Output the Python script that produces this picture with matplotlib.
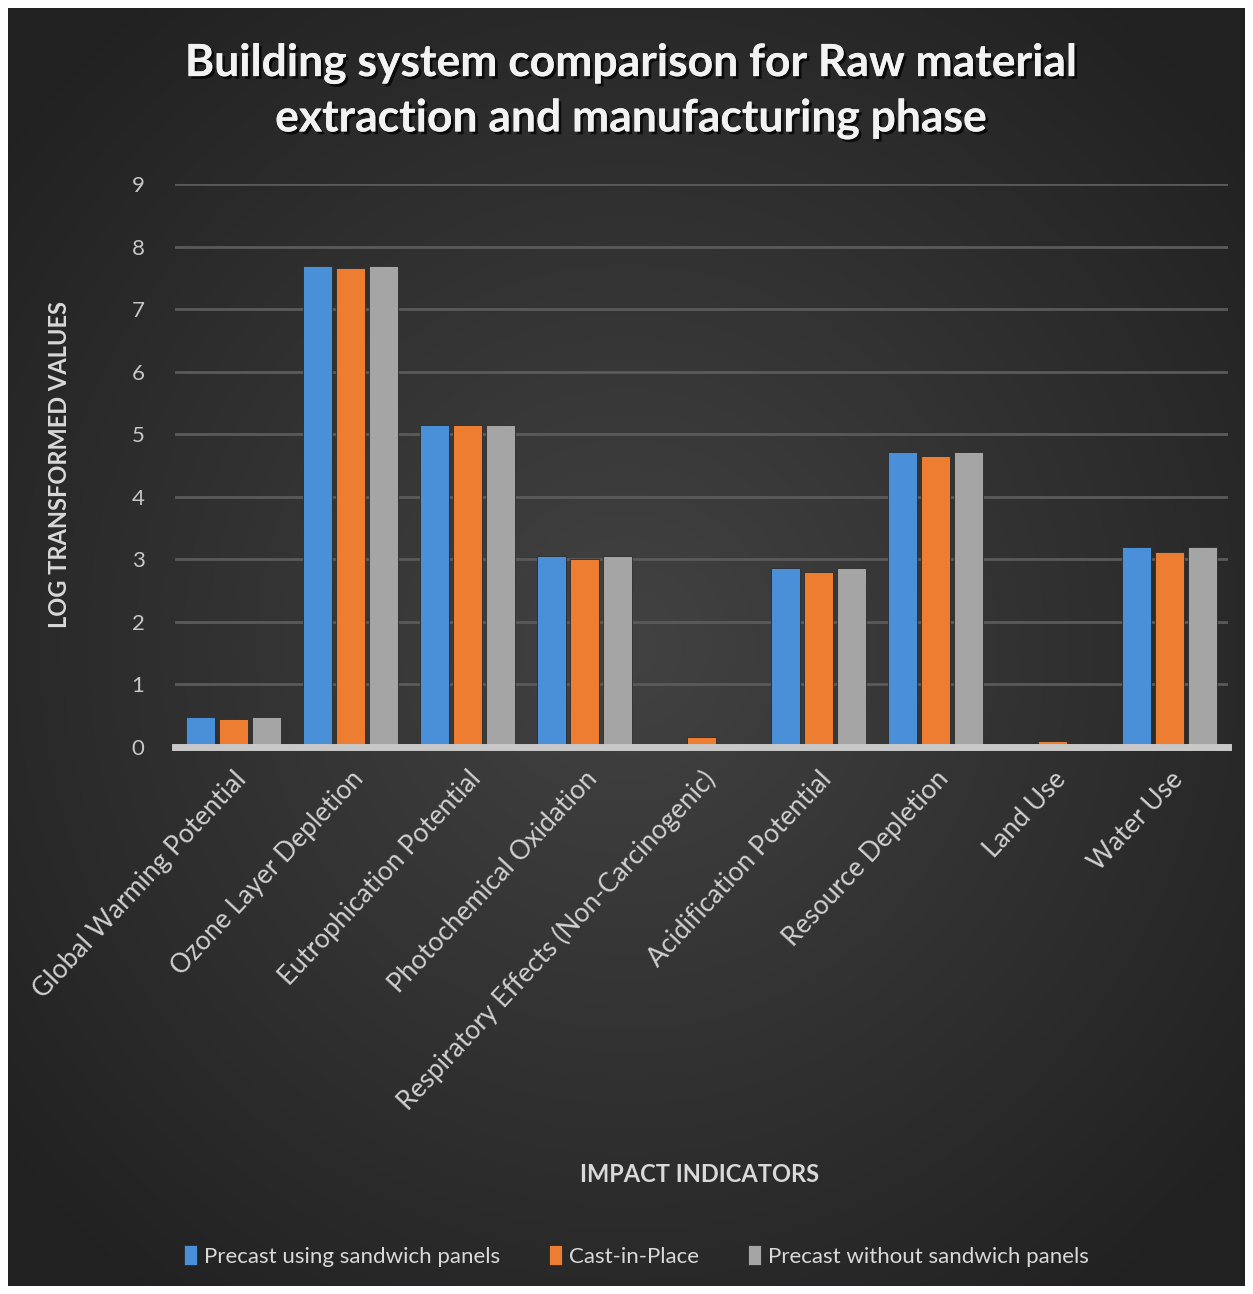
import numpy as np
import matplotlib
matplotlib.use("Agg")
import matplotlib.pyplot as plt
import matplotlib.patheffects as pe

categories = ["Global Warming Potential", "Ozone Layer Depletion", "Eutrophication Potential",
              "Photochemical Oxidation", "Respiratory Effects (Non-Carcinogenic)",
              "Acidification Potential", "Resource Depletion", "Land Use", "Water Use"]
precast_sandwich = [0.48, 7.69, 5.15, 3.05, 0.03, 2.86, 4.72, 0.03, 3.20]
cast_in_place = [0.45, 7.66, 5.15, 3.00, 0.16, 2.80, 4.65, 0.10, 3.12]
precast_no_sandwich = [0.48, 7.69, 5.15, 3.05, 0.03, 2.86, 4.72, 0.03, 3.20]
series_names = ["Precast using sandwich panels", "Cast-in-Place", "Precast without sandwich panels"]
colors = ["#4a90d9", "#ed7d31", "#a5a5a5"]
yticks = list(range(0, 10))

plt.rcParams['font.family'] = ['Lato', 'DejaVu Sans']

W, H = 1253, 1294
fig = plt.figure(figsize=(W/100, H/100), dpi=100)
fig.patch.set_facecolor("white")

# dark radial gradient background
bg = fig.add_axes([8/W, 8/H, (W-16)/W, (H-16)/H])
yy, xx = np.mgrid[-1:1:300j, -1:1:300j]
r = np.sqrt(xx**2 + (yy*1.0)**2)
g = np.clip(0.26 - 0.10*r, 0.13, 0.26)
img = np.dstack([g, g, g])
bg.imshow(img, aspect="auto", extent=[0, 1, 0, 1], interpolation="bilinear")
bg.set_axis_off()

ax = fig.add_axes([175/W, 1 - 747/H, (1228-175)/W, (747-184)/H])
ax.patch.set_alpha(0)
x = np.arange(len(categories))
bw = 0.25
off = 0.28
for i, (vals, c, name) in enumerate(zip([precast_sandwich, cast_in_place, precast_no_sandwich], colors, series_names)):
    ax.bar(x + (i-1)*off, vals, bw, color=c, label=name, zorder=3,
           edgecolor="#2a2a2a", linewidth=0.6)

ax.set_xlim(-0.5, len(categories)-0.5)
ax.set_ylim(0, 9)
ax.set_yticks(yticks)
ax.grid(axis="y", color="#5a5a5a", linewidth=2, zorder=0)
for s in ["top", "right", "left"]:
    ax.spines[s].set_visible(False)
ax.spines["bottom"].set_color("#c8c8c8")
ax.spines["bottom"].set_linewidth(5)
ax.spines["bottom"].set_zorder(4)
ax.tick_params(axis="y", length=0, labelsize=16, labelcolor="#c8c8c8", pad=22)
ax.tick_params(axis="x", length=0, labelsize=19, labelcolor="#d0d0d0", pad=14)
ax.set_xticks(x)
ax.set_xticklabels(categories, rotation=47, ha="right", va="top", rotation_mode="anchor")

fig.text(0.504, 1 - 91/H, "Building system comparison for Raw material\nextraction and manufacturing phase",
         ha="center", va="center", fontsize=32, fontweight="bold", color="#f2f2f2",
         linespacing=1.45,
         path_effects=[pe.withSimplePatchShadow(offset=(2, -2), shadow_rgbFace="black", alpha=0.7), pe.Normal()])

fig.text(60/W, 1 - 465/H, "LOG TRANSFORMED VALUES", rotation=90, ha="center", va="center",
         fontsize=17, fontweight="bold", color="#d9d9d9")
fig.text(700/W, 1 - 1175/H, "IMPACT INDICATORS", ha="center", va="center",
         fontsize=17, fontweight="bold", color="#d9d9d9")

leg = fig.legend(loc="center", bbox_to_anchor=(636/W, 1 - 1256/H), ncol=3, frameon=False,
                 fontsize=16, handlelength=0.6, handleheight=1.0, handletextpad=0.3,
                 columnspacing=2.2, labelcolor="#d9d9d9")

fig.savefig("out.png", dpi=100, facecolor=fig.get_facecolor())
